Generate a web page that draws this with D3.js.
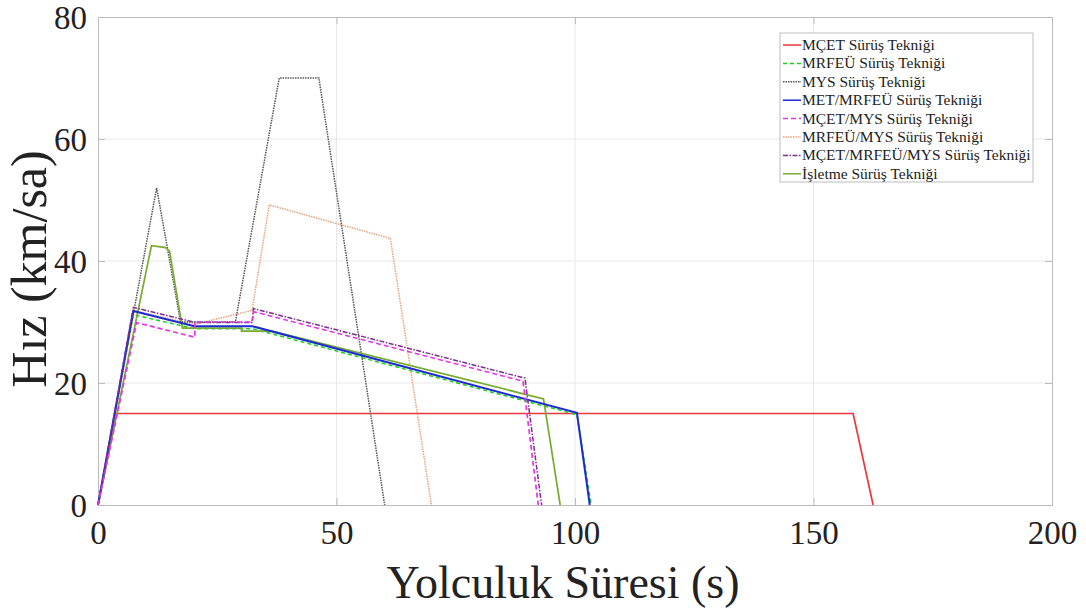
<!DOCTYPE html>
<html>
<head>
<meta charset="utf-8" />
<script src="https://d3js.org/d3.v7.min.js"></script>
<style>
  body { margin: 0; background: #fff; }
  text { font-family: "Liberation Serif", "DejaVu Serif", serif; fill: #222; }
  .grid line { stroke: #e8e8e8; stroke-width: 1; }
  .axis path, .axis line { stroke: #bcbcbc; }
</style>
</head>
<body>
<script>
// ---- data (time in s, speed in km/sa) ----
var xTicks = [0, 50, 100, 150, 200];
var yTicks = [0, 20, 40, 60, 80];

var names = [
  "MÇET Sürüş Tekniği",
  "MRFEÜ Sürüş Tekniği",
  "MYS Sürüş Tekniği",
  "MET/MRFEÜ Sürüş Tekniği",
  "MÇET/MYS Sürüş Tekniği",
  "MRFEÜ/MYS Sürüş Tekniği",
  "MÇET/MRFEÜ/MYS Sürüş Tekniği",
  "İşletme Sürüş Tekniği"
];

var mcetT = [0, 3.9, 158.3, 162.5];
var mcetV = [0, 15, 15, 0];

var mrfeuT = [0, 7.4, 20.2, 32.4, 100.4, 103.4];
var mrfeuV = [0, 31.2, 28.9, 28.9, 14.8, 0];

var mysT = [0, 12.3, 17.3, 28.8, 38.0, 46.3, 60.1];
var mysV = [0, 52, 30, 30, 70, 70, 0];

var metT = [0, 7.4, 20.2, 32.4, 100.4, 103.1];
var metV = [0, 31.8, 29.3, 29.3, 15.1, 0];

var mcetMysT = [0, 8.1, 20.3, 20.3, 32.3, 32.6, 89.1, 92.3];
var mcetMysV = [0, 29.9, 27.5, 30, 30, 31.7, 20.3, 0];

var mrfeuMysT = [0, 7.4, 20.2, 32.3, 35.9, 61.3, 69.9];
var mrfeuMysV = [0, 31.9, 29.6, 31.9, 49.2, 43.7, 0];

var allT = [0, 7.4, 20.6, 32.3, 32.6, 89.5, 93.0];
var allV = [0, 32.4, 29.9, 29.9, 32.2, 20.8, 0];

var isletT = [0, 11.2, 14.2, 15.0, 17.7, 30.1, 30.1, 36.5, 93.4, 96.9];
var isletV = [0, 42.5, 42.2, 41.6, 29.0, 29.0, 28.5, 28.5, 17.4, 0];

var times = [mcetT, mrfeuT, mysT, metT, mcetMysT, mrfeuMysT, allT, isletT];
var speeds = [mcetV, mrfeuV, mysV, metV, mcetMysV, mrfeuMysV, allV, isletV];
var colors = ["#e8383d", "#19d219", "#555555", "#1c2bd0", "#e536e5", "#e8a47e", "#7e2f8e", "#77ac30"];
var dashes = [null, "4,3", "1.5,1", null, "5,3", "1.5,1", "5,1.5,1.5,1.5", null];
var widths = [1.7, 1.5, 1.5, 2, 1.7, 1.5, 1.5, 1.7];
// draw order (last on top)
var order = [0, 5, 2, 1, 7, 3, 6, 4];

var W = 1086, H = 612;
var m = { left: 98, right: 34, top: 17, bottom: 107 };
var iw = W - m.left - m.right, ih = H - m.top - m.bottom;

var svg = d3.select("body").append("svg")
  .attr("width", W)
  .attr("height", H);

var x = d3.scaleLinear().domain([0, 200]).range([0, iw]);
var y = d3.scaleLinear().domain([0, 80]).range([ih, 0]);

var g = svg.append("g").attr("transform", "translate(" + m.left + "," + m.top + ")");

// grid
g.append("g").attr("class", "grid")
  .selectAll("line.v").data(xTicks.slice(1, -1)).enter().append("line")
  .attr("x1", function(d) { return x(d); }).attr("x2", function(d) { return x(d); })
  .attr("y1", 0).attr("y2", ih);
g.append("g").attr("class", "grid")
  .selectAll("line.h").data(yTicks.slice(1, -1)).enter().append("line")
  .attr("y1", function(d) { return y(d); }).attr("y2", function(d) { return y(d); })
  .attr("x1", 0).attr("x2", iw);

// axes (ticks inside like matlab)
var xAxis = g.append("g").attr("class", "axis")
  .attr("transform", "translate(0," + ih + ")")
  .call(d3.axisBottom(x).tickValues(xTicks).tickSize(-7).tickPadding(16));
var yAxis = g.append("g").attr("class", "axis")
  .call(d3.axisLeft(y).tickValues(yTicks).tickSize(-7).tickPadding(11));
g.append("g").attr("class", "axis")
  .call(d3.axisTop(x).tickValues(xTicks).tickSize(-7).tickFormat(""));
g.append("g").attr("class", "axis")
  .attr("transform", "translate(" + iw + ",0)")
  .call(d3.axisRight(y).tickValues(yTicks).tickSize(-7).tickFormat(""));

svg.selectAll(".axis text")
  .style("font-size", "33px")
  .style("font-family", "'Liberation Serif', serif")
  .attr("fill", "#262626");
yAxis.selectAll("text").attr("dy", "0.35em");

// lines
var line = d3.line()
  .x(function(d) { return x(d[0]); })
  .y(function(d) { return y(d[1]); });

order.forEach(function(i) {
  var pts = d3.zip(times[i], speeds[i]);
  g.append("path")
    .datum(pts)
    .attr("d", line)
    .attr("fill", "none")
    .attr("stroke", colors[i])
    .attr("stroke-width", widths[i])
    .attr("stroke-dasharray", dashes[i]);
});

// axis labels
svg.append("text")
  .attr("x", m.left + iw / 2 - 12)
  .attr("y", 598)
  .attr("text-anchor", "middle")
  .style("font-size", "46px")
  .text("Yolculuk Süresi (s)");

svg.append("text")
  .attr("transform", "translate(46," + (m.top + ih / 2 + 8) + ") rotate(-90)")
  .attr("text-anchor", "middle")
  .style("font-size", "50px")
  .text("Hız (km/sa)");

// legend
var lg = svg.append("g").attr("transform", "translate(780,33)");
lg.append("rect")
  .attr("width", 253).attr("height", 149)
  .attr("fill", "#fff")
  .attr("stroke", "#bdbdbd").attr("stroke-width", 1);

names.forEach(function(n, i) {
  var ry = 12 + i * 18.4;
  lg.append("line")
    .attr("x1", 3).attr("x2", 21)
    .attr("y1", ry).attr("y2", ry)
    .attr("stroke", colors[i])
    .attr("stroke-width", 1.5)
    .attr("stroke-dasharray", dashes[i]);
  lg.append("text")
    .attr("x", 22).attr("y", ry + 5)
    .style("font-size", "15.5px")
    .text(n);
});
</script>
</body>
</html>
